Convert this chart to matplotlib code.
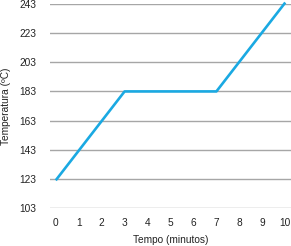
import matplotlib.pyplot as plt

plt.rcParams['font.family'] = ['Liberation Sans', 'DejaVu Sans']

# Dados
tempo = [0, 3, 7, 10]
temperatura = [122, 183, 183, 244]
yticks = [103, 123, 143, 163, 183, 203, 223, 243]
xticks = list(range(0, 11))

fig = plt.figure(figsize=(2.91, 2.46), dpi=100)
ax = fig.add_axes([50 / 291, 1 - 208 / 246, 241 / 291, 204 / 246])

ax.plot(tempo, temperatura, color='#1aa9e2', linewidth=1.9, clip_on=False,
        solid_capstyle='butt', zorder=3)

ax.set_xlim(-0.25, 10.25)
ax.set_ylim(103, 243)
ax.set_yticks(yticks)
ax.set_xticks(xticks)
ax.grid(axis='y', color='#a6a6a6', linewidth=1.0)
ax.set_axisbelow(True)
for s in ax.spines.values():
    s.set_visible(False)
ax.tick_params(length=0, labelsize=7.3, colors='#222222')
ax.tick_params(axis='y', pad=10)
ax.tick_params(axis='x', pad=7)

ax.set_xlabel("Tempo (minutos)", fontsize=7.3, labelpad=5, color='#222222')
ax.set_ylabel("Temperatura (ºC)", fontsize=7.3, labelpad=6, color='#222222')

fig.savefig('out.png', dpi=100)
